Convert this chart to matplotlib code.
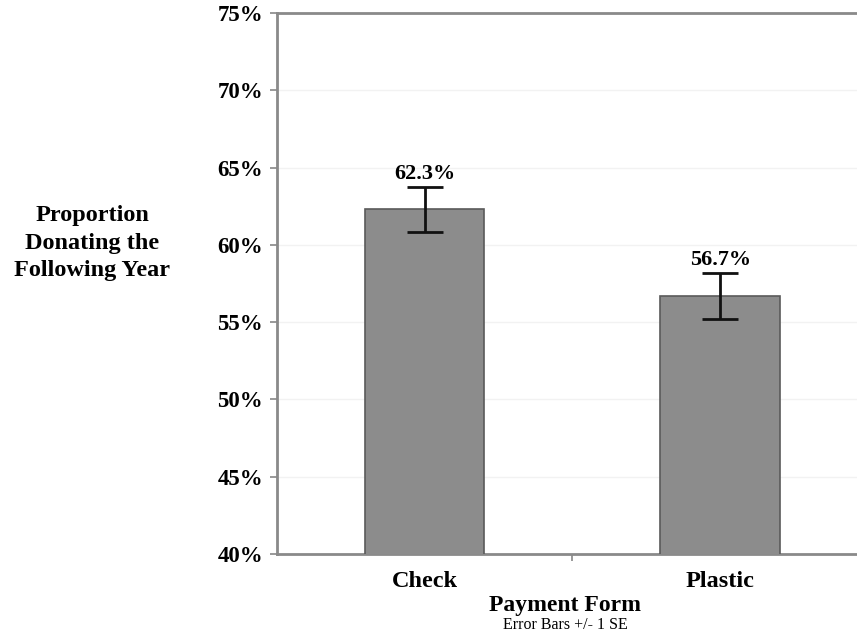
import matplotlib.pyplot as plt
import matplotlib
from matplotlib.ticker import FuncFormatter, FixedLocator

categories = ['Check', 'Plastic']
values = [62.3, 56.7]
errors = [1.45, 1.5]
value_labels = ['62.3%', '56.7%']
yticks = [40, 45, 50, 55, 60, 65, 70, 75]

matplotlib.rc('font', family=['Liberation Serif', 'DejaVu Serif'])

fig = plt.figure(figsize=(8.57, 6.35), dpi=100)
ax = fig.add_axes([0.323, 0.1276, 0.677, 0.8519])

x = list(range(len(categories)))
ax.bar(x, values, width=0.405, color='#8c8c8c', edgecolor='#5a5a5a', linewidth=1.2, zorder=3)
ax.errorbar(x, values, yerr=errors, fmt='none', ecolor='#111111', elinewidth=2,
            capsize=13, capthick=2, zorder=4)
for xi, v, e, lab in zip(x, values, errors, value_labels):
    ax.annotate(lab, (xi, v + e), xytext=(0, 2), textcoords='offset points',
                ha='center', va='bottom', fontsize=16, fontweight='bold')

ax.set_ylim(40, 75)
ax.set_xlim(-0.5, 1.463)
ax.set_yticks(yticks)
ax.yaxis.set_major_formatter(FuncFormatter(lambda v, p: '%d%%' % v))
ax.set_xticks(x)
ax.set_xticklabels(categories)
ax.xaxis.set_minor_locator(FixedLocator([0.5]))
ax.tick_params(axis='x', which='major', length=0, pad=12, labelsize=17.5)
ax.tick_params(axis='x', which='minor', length=5, width=1.2, color='#888888', direction='out')
ax.tick_params(axis='y', length=5, width=1.2, color='#888888', pad=5, labelsize=16.5)
for lab in ax.get_xticklabels() + ax.get_yticklabels():
    lab.set_fontweight('bold')

ax.grid(axis='y', color='#f2f2f2', linewidth=1, zorder=0)
ax.set_axisbelow(True)
for s in ['left', 'bottom', 'top']:
    ax.spines[s].set_color('#8a8a8a')
    ax.spines[s].set_linewidth(2)
ax.spines['right'].set_visible(False)

fig.text(92 / 857, 1 - 243 / 635, 'Proportion\nDonating the\nFollowing Year', ha='center', va='center',
         fontsize=17.5, fontweight='bold', linespacing=1.38)
fig.text(565 / 857, 1 - 605 / 635, 'Payment Form', ha='center', va='center', fontsize=17, fontweight='bold')
fig.text(565 / 857, 1 - 625 / 635, 'Error Bars +/- 1 SE', ha='center', va='center', fontsize=11.5)

fig.savefig('out.png', dpi=100)
